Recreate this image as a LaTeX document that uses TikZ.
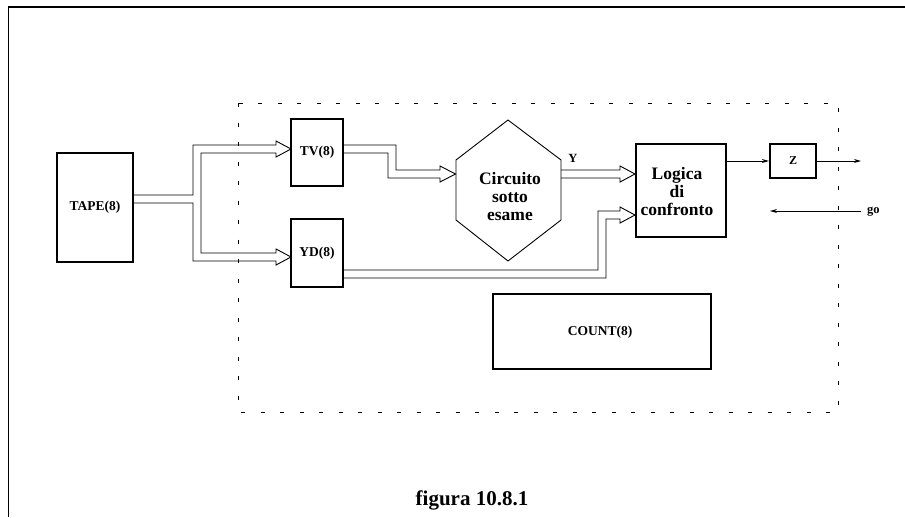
\documentclass[tikz,border=0pt]{standalone}
\usepackage{fontspec}
\setmainfont{Liberation Serif}[BoldFont={Liberation Serif Bold}]
\usetikzlibrary{arrows.meta,calc}
\begin{document}
\begin{tikzpicture}[x=1pt,y=-1pt,
  blk/.style={draw,line width=2.2pt,rectangle,inner sep=0pt,align=center,font=\bfseries\fontsize{13.5}{15}\selectfont},
  bigtxt/.style={inner sep=0pt,align=center,font=\bfseries\fontsize{17.5}{20}\selectfont},
  bus/.style={line width=0.9pt,line join=miter},
  sig/.style={line width=0.9pt,-{Stealth[length=7pt,width=4pt]}},
  lbl/.style={inner sep=0pt,font=\bfseries\fontsize{12.5}{14}\selectfont},
  frame/.style={line width=1.5pt},
  bound/.style={line width=0.9pt,dash pattern=on 4pt off 15.5pt}]
\useasboundingbox (0,0) rectangle (905,517);
% outer frame (top and left edges)
\coordinate (fo) at (8.5,7);
\draw[frame] (905,7) -- (fo) -- (8.5,517);
% dashed boundary
\draw[bound] (238,103) rectangle (838,412);
% blocks
\node[blk,minimum width=76pt,minimum height=109pt] (tape) at (95,207.5) {TAPE(8)};
\node[blk,minimum width=52pt,minimum height=67pt] (tv) at (317,152.5) {TV(8)};
\node[blk,minimum width=52pt,minimum height=68pt] (yd) at (317,253) {YD(8)};
\node[blk,minimum width=90pt,minimum height=93pt] (logic) at (681,190.5) {};
\node[bigtxt] (logtxt) at (677,192) {Logica\\[-2pt]di\\[-2pt]confronto};
\node[blk,minimum width=46pt,minimum height=34pt,font=\bfseries\fontsize{12}{14}\selectfont] (z) at (793,161) {Z};
\node[blk,minimum width=218pt,minimum height=75pt] (count) at (602,331.5) {};
\node[lbl,font=\bfseries\fontsize{13.5}{15}\selectfont] (counttxt) at (600,332) {COUNT(8)};
% hexagon
\draw[line width=0.9pt] (508,120) -- (561,160) -- (561,220) -- (508,261) -- (456,220) -- (456,160) -- cycle;
\node[bigtxt] (hex) at (510,197) {Circuito\\[-2pt]sotto\\[-2pt]esame};
\node[lbl] (ylab) at (573,158) {Y};
% buses
\draw[bus] (134,195) -- (193,195) -- (193,145) -- (276,145) -- (276,141) -- (291,149)
  -- (276,157) -- (276,153) -- (201,153) -- (201,253) -- (276,253) -- (276,249) -- (291,257)
  -- (276,265) -- (276,261) -- (193,261) -- (193,203) -- (134,203);
\draw[bus] (343,145) -- (396,145) -- (396,170) -- (440,170) -- (440,166) -- (455.5,174)
  -- (440,182) -- (440,178) -- (388,178) -- (388,153) -- (343,153);
\draw[bus] (561,170) -- (620,170) -- (620,166) -- (635,174) -- (620,182) -- (620,178) -- (561,178);
\draw[bus] (343,270) -- (598,270) -- (598,211) -- (620,211) -- (620,207) -- (635,215)
  -- (620,223) -- (620,219) -- (606,219) -- (606,278) -- (343,278);
% signals
\draw[sig] (z.west -| logic.east) -- (z.west);
\coordinate (zout) at (861,161);
\draw[sig] (z.east) -- (zout);
\coordinate (go) at (861,211);
\coordinate (goend) at (770,211);
\draw[sig] (go) -- (goend);
\node[lbl,anchor=west] (golab) at (867,212) {go};
% caption
\node[inner sep=0pt,font=\bfseries\fontsize{21}{24}\selectfont,anchor=base] (cap) at (472,505) {figura 10.8.1};
\end{tikzpicture}
\end{document}
